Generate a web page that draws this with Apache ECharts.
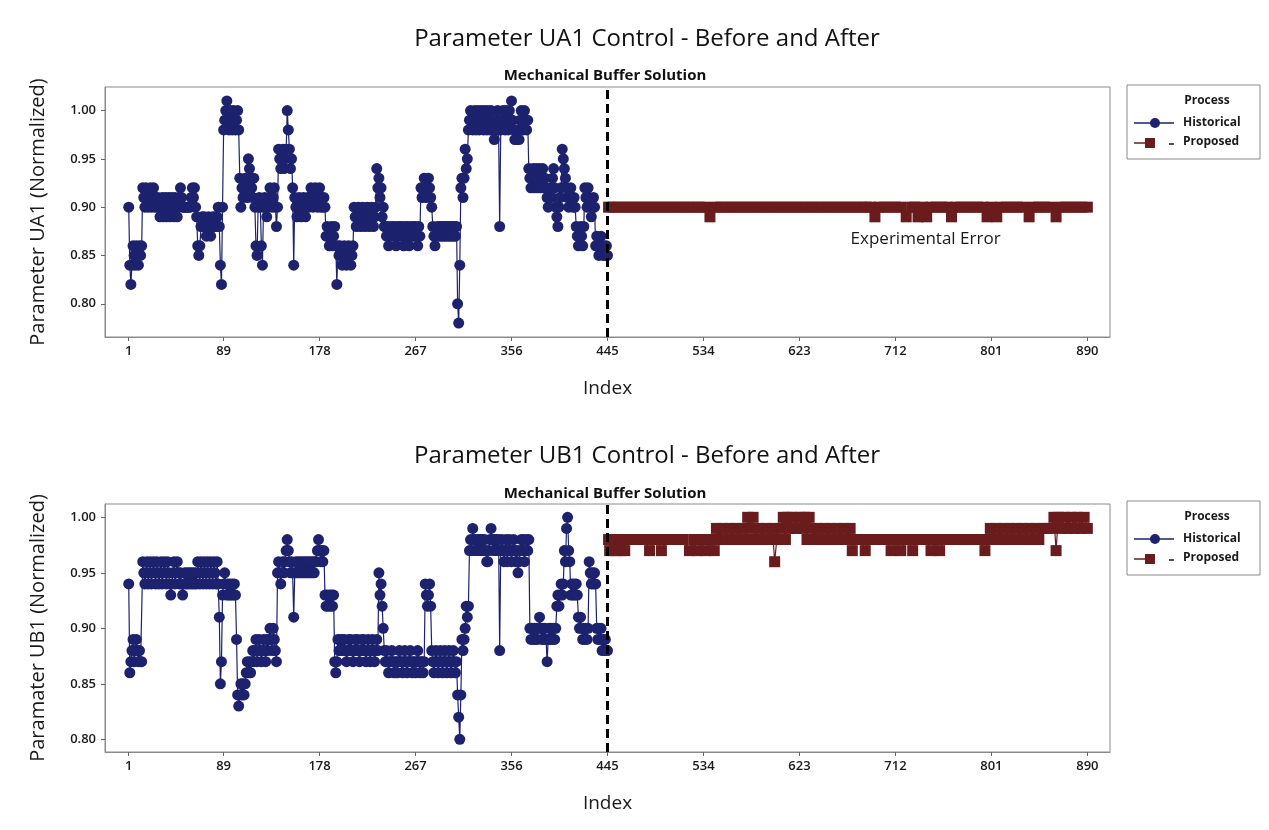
<!DOCTYPE html>
<html>
<head>
<meta charset="utf-8">
<script src="https://cdn.jsdelivr.net/npm/echarts@6/dist/echarts.min.js"></script>
<style>html,body{margin:0;padding:0;background:#fff;}#c{width:1269px;height:830px;}</style>
</head>
<body>
<div id="c"></div>
<script>
// ---------- tick labels ----------
const xTicks = [1, 89, 178, 267, 356, 445, 534, 623, 712, 801, 890];
const yTicks = [0.80, 0.85, 0.90, 0.95, 1.00];
const cutIndex = 445;

// ---------- Parameter UA1: historical, one value per index 1..445 ----------
const ua1Historical = [
.90,.84,.82,.84,.86,.85,.84,.86,.85,.84,.86,.85,.86,
.92,.91,.90,.92,.91,.90,.91,.92,.90,.91,.92,.90,.91,.90,.91,
.90,.89,.90,.91,.89,.90,.91,.89,.90,.91,.89,.90,.91,.90,.89,.91,.90,.89,
.90,.91,.92,.91,.90,.90,.90,.90,.90,.90,.90,.90,.91,.92,.91,.92,.90,
.89,.86,.85,.86,.88,.89,.88,.89,.88,.87,.88,.89,.88,.87,.88,.89,.88,.89,.88,.89,.90,.88,.84,.82,.90,
.98,.99,1.00,1.01,.99,.98,1.00,.99,.98,1.00,.99,.98,.99,1.00,.98,
.93,.90,.92,.91,.92,.93,.92,.91,.95,.94,.93,.92,.91,.93,.90,
.86,.85,.90,.91,.90,.86,.84,.90,.91,.90,.89,.90,.91,.92,.91,.90,.91,.92,.90,.88,.90,
.96,.95,.94,.95,.96,.94,.95,.96,1.00,.98,.96,.94,.95,
.92,.84,.91,.90,.89,.90,.91,.90,.89,.90,.91,.90,.89,.90,.91,.90,
.91,.92,.91,.90,.91,.92,.91,.90,.91,.92,.90,.91,.90,.91,.90,
.87,.88,.87,.86,.87,.88,.86,.87,.88,.86,.82,.86,.85,.86,.85,.84,.85,.86,.85,.84,.85,.86,.85,.84,.85,.86,
.90,.89,.88,.89,.90,.89,.88,.89,.90,.89,.88,.89,.90,.89,.88,.89,.90,.89,.88,.89,.90,
.94,.92,.93,.91,.92,.89,.90,.88,
.88,.87,.88,.86,.87,.88,.87,.88,.87,.88,.86,.87,.88,.87,.88,.87,.88,.86,.87,.88,.87,.88,.86,.87,.88,.87,.88,.87,.88,.87,.86,.88,.87,
.92,.91,.92,.93,.92,.91,.92,.93,.92,.91,.90,
.88,.87,.86,.87,.88,.87,.88,.87,.88,.87,.88,.87,.88,.87,.88,.87,.88,.87,.88,.87,.88,.87,.88,
.80,.78,.84,.92,.93,.91,.93,.96,.94,.95,.98,
.99,1.00,.99,.98,.99,1.00,.98,.99,1.00,.98,.99,1.00,.99,.98,1.00,.99,.98,1.00,.99,.98,1.00,.99,.98,.97,.98,.99,1.00,.98,.88,.98,.99,1.00,.99,.98,1.00,.99,.98,1.00,.99,1.01,.99,.98,.97,.98,.97,.98,.97,.99,1.00,.99,.98,1.00,.99,.98,.99,
.94,.93,.92,.93,.94,.92,.93,.94,.92,.93,.94,.92,.93,.94,.92,.93,.92,
.91,.90,.91,.92,.91,.93,.94,.92,.90,.89,.88,.90,.91,.92,.96,.95,.94,.93,.92,.91,.90,
.91,.92,.91,.90,.91,.90,.88,.87,.86,.87,.88,.87,.86,.88,.92,.91,.90,.92,.91,.90,.89,.90,.91,.90,
.86,.87,.86,.85,.86,.87,.86,.85,.86,.85,.86,.85
];

// ---------- Parameter UA1: proposed [index, value] ----------
const ua1Proposed = [
[446,.90],[450,.90],[455,.90],[460,.90],[465,.90],[470,.90],[475,.90],[480,.90],[485,.90],[490,.90],
[495,.90],[500,.90],[505,.90],[510,.90],[515,.90],[520,.90],[525,.90],[530,.90],[535,.90],[540,.89],
[545,.90],[550,.90],[555,.90],[560,.90],[565,.90],[570,.90],[575,.90],[580,.90],[585,.90],[590,.90],
[595,.90],[600,.90],[605,.90],[610,.90],[615,.90],[620,.90],[625,.90],[630,.90],[635,.90],[640,.90],
[645,.90],[650,.90],[655,.90],[660,.90],[665,.90],[670,.90],[675,.90],[680,.90],[685,.90],[689,.90],
[693,.89],[697,.90],[702,.90],[707,.90],[712,.90],[717,.90],[722,.89],[727,.90],[730,.90],[733,.89],
[737,.90],[741,.89],[745,.90],[750,.90],[755,.90],[760,.90],[764,.89],[768,.90],[773,.90],[778,.90],
[783,.90],[788,.90],[793,.90],[797,.89],[801,.90],[806,.89],[810,.90],[815,.90],[820,.90],[825,.90],
[830,.90],[836,.89],[840,.90],[845,.90],[850,.90],[855,.90],[861,.89],[865,.90],[870,.90],[875,.90],
[880,.90],[885,.90],[890,.90]
];

// ---------- Parameter UB1: historical, one value per index 1..445 ----------
const ub1Historical = [
.94,.86,.87,.88,.89,.87,.88,.89,.88,.87,.88,.87,.87,
.96,.95,.94,.95,.96,.94,.95,.96,.94,.95,.96,.95,.94,.96,.95,.94,.95,.96,.94,.95,.96,.95,.94,.96,.95,
.94,.93,.94,.95,.96,.94,.95,.96,.95,.94,.95,.94,.93,.94,.95,.94,.95,.94,.95,.94,.95,.94,.95,.94,.95,.94,
.96,.95,.94,.96,.95,.94,.96,.95,.94,.96,.95,.94,.96,.95,.94,.96,.95,.94,.96,.94,
.91,.85,.87,.93,.94,.95,.94,.93,.94,.93,.94,.93,.94,.93,.94,.93,
.89,.84,.83,.84,.85,.84,.85,.84,.85,.86,.87,.86,.87,.86,.87,.88,.87,.88,.89,.87,.88,.89,.88,.87,.88,.89,.88,.87,.89,.88,.89,.90,.89,.88,.90,.89,.88,.87,
.95,.96,.95,.94,.95,.96,.95,.96,.97,.98,.97,.96,.95,.96,.95,.91,.95,.96,.95,.96,.95,.96,.95,.96,.95,.96,.95,.96,.95,.96,.95,.96,.95,.96,.95,.96,.96,.97,
.98,.97,.96,.97,.96,.97,
.93,.92,.93,.92,.93,.92,.93,.92,.93,
.87,.86,.87,.89,.88,.89,.88,.89,.88,.89,.88,.87,.88,.89,.88,.89,.88,.87,.88,.89,.88,.89,.88,.87,.88,.89,.88,.89,.88,.87,.88,.89,.88,.87,.88,.89,.88,.87,.88,.89,.88,
.95,.93,.94,.92,.90,.88,
.87,.88,.87,.86,.87,.87,.88,.87,.86,.87,.87,.86,.87,.88,.87,.87,.86,.87,.88,.87,.86,.87,.87,.88,.87,.86,.87,.87,.86,.87,.88,.87,.86,.87,.87,.86,.87,
.94,.93,.92,.93,.94,.92,
.88,.87,.86,.87,.88,.87,.86,.87,.88,.87,.86,.87,.88,.87,.86,.87,.88,.87,.86,.87,.88,.87,.86,.87,
.84,.82,.80,.84,.89,.88,.89,.90,
.92,.91,.92,
.97,.98,.97,.99,.98,.97,.98,.97,.98,.97,.98,.97,.98,.97,.98,.97,.96,.96,.97,.98,.99,.98,.97,.98,.97,.98,.97,.98,.88,.97,.98,.97,.96,.97,.98,.96,.97,.98,.97,.96,.97,.98,.97,.96,.97,.95,.96,.97,.98,.97,.98,.96,.97,.98,.97,.98,
.90,.89,.90,.89,.90,.89,.90,.89,.90,.91,.90,.89,.90,.89,.90,.89,.87,.89,.90,.89,.90,.89,.90,.89,.90,
.92,.93,.92,.93,.94,.93,.94,.97,.96,.99,1.00,.97,.96,.93,.94,.93,.94,.93,.94,.93,
.91,.90,.91,.90,.89,.90,.89,.90,.89,.90,.96,.95,.94,.95,.94,.95,.94,
.90,.89,.90,.89,.90,.88,.89,.88,.89,.88,.88
];

// ---------- Parameter UB1: proposed [index, value] ----------
const ub1Proposed = [
[446,.98],[447,.97],[450,.98],[452,.97],[455,.98],[457,.97],[460,.98],[461,.97],[465,.98],[470,.98],
[475,.98],[480,.98],[484,.97],[488,.98],[491,.98],[495,.97],[500,.98],[505,.98],[510,.98],[515,.98],
[521,.97],[525,.98],[528,.97],[532,.98],[536,.97],[540,.98],[544,.97],[546,.99],[549,.98],[552,.99],
[555,.98],[558,.99],[561,.98],[564,.99],[567,.98],[570,.99],[573,.98],[575,1.00],[578,.99],[580,1.00],
[583,.98],[586,.99],[589,.98],[592,.99],[595,.98],[598,.99],[600,.96],[602,.98],[605,.99],[608,1.00],
[610,.98],[612,1.00],[614,.99],[617,1.00],[620,.99],[623,1.00],[626,.99],[628,1.00],[630,.98],[632,1.00],
[634,.99],[637,.98],[640,.99],[643,.98],[646,.99],[649,.98],[652,.99],[655,.98],[658,.99],[661,.98],
[664,.99],[667,.98],[670,.99],[672,.97],[675,.98],[680,.98],[684,.97],[688,.98],[692,.98],[696,.98],
[700,.98],[704,.98],[708,.97],[712,.98],[717,.97],[721,.98],[725,.98],[728,.97],[732,.98],[736,.98],
[740,.98],[745,.97],[749,.98],[753,.97],[757,.98],[761,.98],[765,.98],[770,.98],[775,.98],[780,.98],
[785,.98],[790,.98],[795,.97],[798,.98],[800,.99],[803,.98],[806,.99],[809,.98],[812,.99],[815,.98],
[818,.99],[821,.98],[824,.99],[827,.98],[830,.99],[833,.98],[836,.99],[839,.98],[842,.99],[845,.98],
[848,.99],[852,.99],[856,.99],[859,1.00],[861,.97],[863,1.00],[866,.99],[869,1.00],[872,.99],[875,1.00],
[878,.99],[881,1.00],[884,.99],[887,1.00],[890,.99]
];

// pair historical values with their index (1-based position)
const withIndex = arr => arr.map((v, i) => [i + 1, v]);

const NAVY = '#1d226e';
const BROWN = '#6a1c1c';
const FONT = '"Open Sans", "Noto Sans", sans-serif';
const TXT = '#1a1a1a';

function xAxisDef(gi) {
  return {
    type: 'value', gridIndex: gi, min: -21, max: 911,
    axisLine: { show: true, onZero: false, lineStyle: { color: '#8a8a8a', width: 1 } },
    axisTick: { show: true, customValues: xTicks, length: 4, lineStyle: { color: '#666' } },
    axisLabel: { customValues: xTicks, fontSize: 13, fontWeight: 600, color: TXT, fontFamily: FONT, margin: 8 },
    splitLine: { show: false },
    name: 'Index', nameLocation: 'middle', nameGap: 42,
    nameTextStyle: { fontSize: 19, color: TXT, fontFamily: FONT }
  };
}
function yAxisDef(gi, min, max, name) {
  return {
    type: 'value', gridIndex: gi, min: min, max: max,
    axisLine: { show: true, onZero: false, lineStyle: { color: '#8a8a8a', width: 1 } },
    axisTick: { show: true, customValues: yTicks, length: 4, lineStyle: { color: '#666' } },
    axisLabel: { customValues: yTicks, fontSize: 13, fontWeight: 600, color: TXT, fontFamily: FONT, margin: 9,
                 formatter: v => v.toFixed(2) },
    splitLine: { show: false },
    name: name, nameLocation: 'middle', nameGap: 57, nameRotate: 90,
    nameTextStyle: { fontSize: 20, color: TXT, fontFamily: FONT }
  };
}
function cutLine() {
  return {
    silent: true, symbol: 'none', label: { show: false },
    lineStyle: { color: '#000', width: 3, type: [9, 5] },
    data: [{ xAxis: cutIndex }]
  };
}
function legendGraphics(top) {
  return [
    { type: 'rect', shape: { x: 1127, y: top, width: 133, height: 74 },
      style: { fill: '#fff', stroke: '#8a8a8a', lineWidth: 1 } },
    { type: 'text', x: 1207, y: top + 16, style: { text: 'Process', fill: TXT, font: 'bold 12px ' + FONT, align: 'center', verticalAlign: 'middle' } },
    { type: 'line', shape: { x1: 1134, y1: top + 38, x2: 1174, y2: top + 38 }, style: { stroke: NAVY, lineWidth: 1.5 } },
    { type: 'circle', shape: { cx: 1155, cy: top + 38, r: 5 }, style: { fill: NAVY } },
    { type: 'text', x: 1183, y: top + 38, style: { text: 'Historical', fill: TXT, font: 'bold 12px ' + FONT, verticalAlign: 'middle' } },
    { type: 'line', shape: { x1: 1134, y1: top + 58, x2: 1150, y2: top + 58 }, style: { stroke: BROWN, lineWidth: 1.5 } },
    { type: 'rect', shape: { x: 1145, y: top + 53, width: 10, height: 10 }, style: { fill: BROWN } },
    { type: 'line', shape: { x1: 1169, y1: top + 59, x2: 1174, y2: top + 59 }, style: { stroke: TXT, lineWidth: 1.5 } },
    { type: 'text', x: 1183, y: top + 57, style: { text: 'Proposed', fill: TXT, font: 'bold 12px ' + FONT, verticalAlign: 'middle' } }
  ];
}

const chart = echarts.init(document.getElementById('c'), null, { renderer: 'canvas' });
chart.setOption({
  animation: false,
  backgroundColor: '#fff',
  title: [
    { text: 'Parameter UA1 Control - Before and After', left: 642, top: 22, textAlign: 'center',
      textStyle: { fontSize: 24, fontWeight: 500, color: '#111', fontFamily: FONT } },
    { text: 'Mechanical Buffer Solution', left: 600, top: 63, textAlign: 'center',
      textStyle: { fontSize: 15, fontWeight: 'bold', color: '#111', fontFamily: FONT } },
    { text: 'Parameter UB1 Control - Before and After', left: 642, top: 439, textAlign: 'center',
      textStyle: { fontSize: 24, fontWeight: 500, color: '#111', fontFamily: FONT } },
    { text: 'Mechanical Buffer Solution', left: 600, top: 481, textAlign: 'center',
      textStyle: { fontSize: 15, fontWeight: 'bold', color: '#111', fontFamily: FONT } }
  ],
  grid: [
    { left: 105, right: 159, top: 87, height: 250, show: true, borderColor: '#8a8a8a', borderWidth: 1 },
    { left: 105, right: 159, top: 504, height: 248, show: true, borderColor: '#8a8a8a', borderWidth: 1 }
  ],
  xAxis: [xAxisDef(0), xAxisDef(1)],
  yAxis: [
    yAxisDef(0, 0.7656, 1.0244, 'Parameter UA1 (Normalized)'),
    yAxisDef(1, 0.7886, 1.012, 'Paramater UB1 (Normalized)')
  ],
  graphic: legendGraphics(85).concat(legendGraphics(501)),
  series: [
    { name: 'Historical', type: 'line', xAxisIndex: 0, yAxisIndex: 0, data: withIndex(ua1Historical),
      symbol: 'circle', symbolSize: 11, lineStyle: { color: NAVY, width: 1.2 }, itemStyle: { color: NAVY },
      markLine: cutLine(), z: 3 },
    { name: 'Proposed', type: 'line', xAxisIndex: 0, yAxisIndex: 0, data: ua1Proposed,
      symbol: 'rect', symbolSize: 11, lineStyle: { color: BROWN, width: 1.2 }, itemStyle: { color: BROWN },
      markPoint: { symbol: 'circle', symbolSize: 0, silent: true,
        label: { show: true, formatter: 'Experimental Error', fontSize: 17, color: TXT, fontFamily: FONT, position: 'inside' },
        data: [{ coord: [740, 0.8665] }] }, z: 2 },
    { name: 'Historical', type: 'line', xAxisIndex: 1, yAxisIndex: 1, data: withIndex(ub1Historical),
      symbol: 'circle', symbolSize: 11, lineStyle: { color: NAVY, width: 1.2 }, itemStyle: { color: NAVY },
      markLine: cutLine(), z: 3 },
    { name: 'Proposed', type: 'line', xAxisIndex: 1, yAxisIndex: 1, data: ub1Proposed,
      symbol: 'rect', symbolSize: 11, lineStyle: { color: BROWN, width: 1.2 }, itemStyle: { color: BROWN }, z: 2 }
  ]
});
</script>
</body>
</html>
